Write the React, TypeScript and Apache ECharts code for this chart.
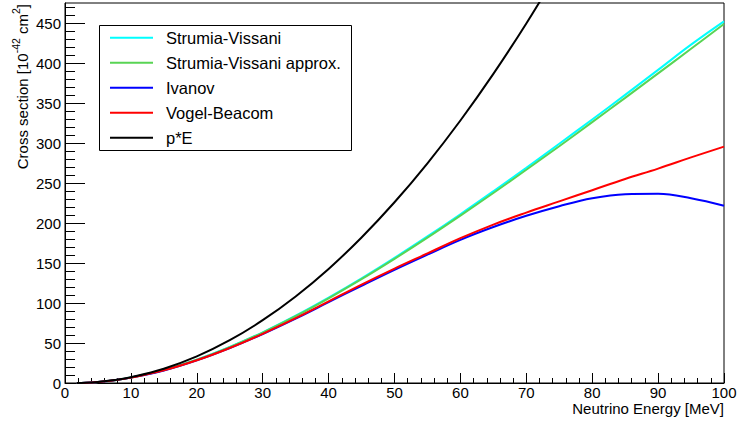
import React, { useEffect, useRef } from "react";
import * as echarts from "echarts";

// Neutrino energy grid [MeV]
const energies = [1.8, 2.5, 5, 7.5, 10, 15, 20, 25, 30, 35, 40, 45, 50, 55, 60, 65, 70, 75, 80, 85, 90, 95, 100];
// Cross sections [1e-42 cm^2]
const strumiaVissani = [0, 0.12, 1.27, 3.52, 6.83, 16.3, 29.2, 45.1, 63.4, 84.1, 106.7, 130.8, 156.4, 183.2, 211.0, 239.7, 269.0, 299.0, 329.4, 360.2, 391.4, 422.9, 452];
const strumiaVissaniApprox = [0, 0.12, 1.26, 3.5, 6.78, 16.2, 29.0, 44.8, 63.0, 83.5, 105.9, 129.8, 155.2, 181.7, 209.2, 237.5, 266.5, 296.0, 326.1, 356.4, 387.0, 417.8, 448.7];
const ivanov = [0, 0.12, 1.25, 3.47, 6.7, 15.7, 28.3, 43.6, 61.2, 80.5, 101, 121.5, 141.5, 160.5, 179, 195, 209, 221, 231, 236, 236.5, 231, 221.5];
const vogelBeacom = [0, 0.12, 1.25, 3.48, 6.72, 15.8, 28.4, 43.8, 61.5, 81, 102, 123, 143, 162, 181, 198, 213, 227, 241, 255, 268, 282, 295.5];
const pEEnergies = [1.8, 2.5, 5, 7.5, 10, 15, 20, 25, 30, 35, 40, 45, 50, 55, 60, 65, 70, 75];
const pE = [0, 0.13, 1.3, 3.66, 7.2, 17.9, 33.3, 53.5, 78.5, 108.2, 142.6, 181.9, 225.9, 274.6, 328.1, 386.4, 449.4, 517.2];

const seriesNames = ["Strumia-Vissani", "Strumia-Vissani approx.", "Ivanov", "Vogel-Beacom", "p*E"];
const seriesColors = ["#00ffff", "#59d454", "#0000ff", "#ff0000", "#000000"];

const yMajorTicks = [0, 50, 100, 150, 200, 250, 300, 350, 400, 450];
const yMinorTicks = [10, 20, 30, 40, 60, 70, 80, 90, 110, 120, 130, 140, 160, 170, 180, 190, 210, 220, 230, 240, 260, 270, 280, 290, 310, 320, 330, 340, 360, 370, 380, 390, 410, 420, 430, 440, 460, 470];

const FONT = "'Liberation Sans', Arial, Helvetica, sans-serif";

export default function App() {
  const ref = useRef<HTMLDivElement>(null);
  useEffect(() => {
    if (!ref.current) return;
    const chart = echarts.init(ref.current, null, { renderer: "svg" });
    const pair = (xs: number[], ys: number[]) => xs.map((x, i) => [x, ys[i]]);
    const dataSets = [
      pair(energies, strumiaVissani),
      pair(energies, strumiaVissaniApprox),
      pair(energies, ivanov),
      pair(energies, vogelBeacom),
      pair(pEEnergies, pE),
    ];
    const legendTop = 37.7;
    const legendStep = 25;
    const legendEls: any[] = [
      {
        type: "rect",
        z: 100,
        shape: { x: 99.5, y: 25.5, width: 252, height: 125 },
        style: { fill: "#fff", stroke: "#000", lineWidth: 1 },
      },
    ];
    seriesNames.forEach((name, i) => {
      const y = legendTop + legendStep * i;
      legendEls.push({
        type: "line",
        z: 101,
        shape: { x1: 110, y1: y, x2: 153, y2: y },
        style: { stroke: seriesColors[i], lineWidth: 2 },
      });
      legendEls.push({
        type: "text",
        z: 101,
        x: 166,
        y: y,
        style: {
          text: name,
          fill: "#000",
          font: `16.5px ${FONT}`,
          verticalAlign: "middle",
          align: "left",
        },
      });
    });

    chart.setOption({
      animation: false,
      grid: {
        left: 65,
        right: 13,
        top: 3,
        bottom: 39,
        show: true,
        borderColor: "#000",
        borderWidth: 1,
        outerBoundsMode: "none",
        containLabel: false,
      },
      xAxis: {
        type: "value",
        min: 0,
        max: 100,
        interval: 10,
        axisLine: { show: true, lineStyle: { color: "#000", width: 1 } },
        axisTick: { show: true, inside: true, length: 10, lineStyle: { color: "#000" } },
        minorTick: { show: true, splitNumber: 5, length: 5, lineStyle: { color: "#000" } },
        splitLine: { show: false },
        axisLabel: { color: "#000", fontSize: 15, lineHeight: 14, fontFamily: FONT, margin: 2 },
      },
      yAxis: [
        {
          type: "value",
          min: 0,
          max: 475,
          axisLine: { show: true, onZero: false, lineStyle: { color: "#000", width: 1 } },
          axisTick: { show: true, inside: true, length: 20, lineStyle: { color: "#000" }, customValues: yMajorTicks },
          splitLine: { show: false },
          axisLabel: { color: "#000", fontSize: 15, fontFamily: FONT, margin: 4, customValues: yMajorTicks },
        },
        {
          type: "value",
          min: 0,
          max: 475,
          position: "left",
          axisLine: { show: false },
          axisTick: { show: true, inside: true, length: 10, lineStyle: { color: "#000" }, customValues: yMinorTicks },
          splitLine: { show: false },
          axisLabel: { show: false },
        },
      ],
      series: dataSets.map((d, i) => ({
        name: seriesNames[i],
        type: "line",
        data: d,
        yAxisIndex: 0,
        showSymbol: false,
        symbol: "none",
        smooth: 0.4,
        clip: true,
        lineStyle: { color: seriesColors[i], width: 2 },
        itemStyle: { color: seriesColors[i] },
        z: 2 + i,
      })),
      graphic: [
        {
          type: "text",
          x: 724,
          y: 401,
          style: {
            text: "Neutrino Energy [MeV]",
            fill: "#000",
            font: `15px ${FONT}`,
            lineHeight: 15,
            align: "right",
            verticalAlign: "top",
          },
        },
        {
          type: "text",
          x: 20,
          y: 4,
          rotation: Math.PI / 2,
          style: {
            text: "{a|Cross section [10}{s|-42}{a| cm}{s|2}{a|]}",
            align: "right",
            verticalAlign: "middle",
            fill: "#000",
            rich: {
              a: { fontSize: 15, fontFamily: FONT, lineHeight: 20, fill: "#000", verticalAlign: "bottom" },
              s: { fontSize: 10.5, fontFamily: FONT, lineHeight: 12, fill: "#000", verticalAlign: "top" },
            },
          },
        },
        ...legendEls,
      ],
    });
    return () => chart.dispose();
  }, []);
  return (
    <div
      ref={ref}
      style={{ position: "fixed", left: 0, top: 0, width: 737, height: 422, background: "#fff" }}
    />
  );
}
